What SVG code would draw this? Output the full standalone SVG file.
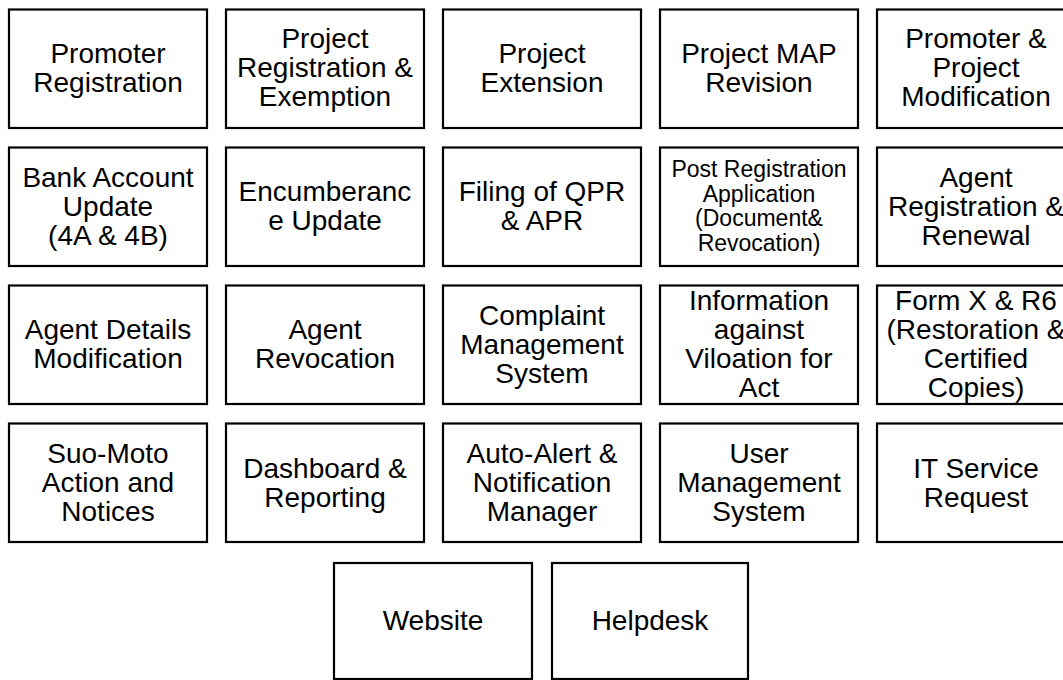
<svg xmlns="http://www.w3.org/2000/svg" width="1063" height="680" viewBox="0 0 1063 680">
  <style>
    .box { fill: #ffffff; stroke: #000000; stroke-width: 2.2; }
    .lbl { font-family: "Liberation Sans", Arial, sans-serif; font-size: 28px; fill: #000000; text-anchor: middle; }
    .sm { font-size: 23px; }
  </style>
  <rect x="0" y="0" width="1063" height="680" fill="#ffffff"/>

  <!-- Row 1 -->
  <g id="promoter-registration">
    <rect class="box" x="9" y="9.5" width="198" height="118.5"/>
    <text class="lbl" x="108"><tspan x="108" y="62.5">Promoter</tspan><tspan x="108" y="91.5">Registration</tspan></text>
  </g>
  <g id="project-registration">
    <rect class="box" x="226" y="9.5" width="198" height="118.5"/>
    <text class="lbl"><tspan x="325" y="48">Project</tspan><tspan x="325" y="77">Registration &amp;</tspan><tspan x="325" y="106">Exemption</tspan></text>
  </g>
  <g id="project-extension">
    <rect class="box" x="443" y="9.5" width="198" height="118.5"/>
    <text class="lbl"><tspan x="542" y="62.5">Project</tspan><tspan x="542" y="91.5">Extension</tspan></text>
  </g>
  <g id="project-map-revision">
    <rect class="box" x="660" y="9.5" width="198" height="118.5"/>
    <text class="lbl"><tspan x="759" y="62.5">Project MAP</tspan><tspan x="759" y="91.5">Revision</tspan></text>
  </g>
  <g id="promoter-project-modification">
    <rect class="box" x="877" y="9.5" width="198" height="118.5"/>
    <text class="lbl"><tspan x="976" y="48">Promoter &amp;</tspan><tspan x="976" y="77">Project</tspan><tspan x="976" y="106">Modification</tspan></text>
  </g>

  <!-- Row 2 -->
  <g id="bank-account-update">
    <rect class="box" x="9" y="147.5" width="198" height="118.5"/>
    <text class="lbl"><tspan x="108" y="186.5">Bank Account</tspan><tspan x="108" y="215.5">Update</tspan><tspan x="108" y="244.5">(4A &amp; 4B)</tspan></text>
  </g>
  <g id="encumberance-update">
    <rect class="box" x="226" y="147.5" width="198" height="118.5"/>
    <text class="lbl"><tspan x="325" y="201">Encumberanc</tspan><tspan x="325" y="230">e Update</tspan></text>
  </g>
  <g id="filing-qpr-apr">
    <rect class="box" x="443" y="147.5" width="198" height="118.5"/>
    <text class="lbl"><tspan x="542" y="201">Filing of QPR</tspan><tspan x="542" y="230">&amp; APR</tspan></text>
  </g>
  <g id="post-registration-application">
    <rect class="box" x="660" y="147.5" width="198" height="118.5"/>
    <text class="lbl sm"><tspan x="759" y="177">Post Registration</tspan><tspan x="759" y="201.5">Application</tspan><tspan x="759" y="226">(Document&amp;</tspan><tspan x="759" y="250.5">Revocation)</tspan></text>
  </g>
  <g id="agent-registration-renewal">
    <rect class="box" x="877" y="147.5" width="198" height="118.5"/>
    <text class="lbl"><tspan x="976" y="186.5">Agent</tspan><tspan x="976" y="215.5">Registration &amp;</tspan><tspan x="976" y="244.5">Renewal</tspan></text>
  </g>

  <!-- Row 3 -->
  <g id="agent-details-modification">
    <rect class="box" x="9" y="285.5" width="198" height="118.5"/>
    <text class="lbl"><tspan x="108" y="339">Agent Details</tspan><tspan x="108" y="368">Modification</tspan></text>
  </g>
  <g id="agent-revocation">
    <rect class="box" x="226" y="285.5" width="198" height="118.5"/>
    <text class="lbl"><tspan x="325" y="339">Agent</tspan><tspan x="325" y="368">Revocation</tspan></text>
  </g>
  <g id="complaint-management">
    <rect class="box" x="443" y="285.5" width="198" height="118.5"/>
    <text class="lbl"><tspan x="542" y="324.5">Complaint</tspan><tspan x="542" y="353.5">Management</tspan><tspan x="542" y="382.5">System</tspan></text>
  </g>
  <g id="information-violation">
    <rect class="box" x="660" y="285.5" width="198" height="118.5"/>
    <text class="lbl"><tspan x="759" y="310">Information</tspan><tspan x="759" y="339">against</tspan><tspan x="759" y="368">Viloation for</tspan><tspan x="759" y="397">Act</tspan></text>
  </g>
  <g id="form-x-r6">
    <rect class="box" x="877" y="285.5" width="198" height="118.5"/>
    <text class="lbl"><tspan x="976" y="310">Form X &amp; R6</tspan><tspan x="976" y="339">(Restoration &amp;</tspan><tspan x="976" y="368">Certified</tspan><tspan x="976" y="397">Copies)</tspan></text>
  </g>

  <!-- Row 4 -->
  <g id="suo-moto-action">
    <rect class="box" x="9" y="423.5" width="198" height="118.5"/>
    <text class="lbl"><tspan x="108" y="463">Suo-Moto</tspan><tspan x="108" y="492">Action and</tspan><tspan x="108" y="521">Notices</tspan></text>
  </g>
  <g id="dashboard-reporting">
    <rect class="box" x="226" y="423.5" width="198" height="118.5"/>
    <text class="lbl"><tspan x="325" y="477.5">Dashboard &amp;</tspan><tspan x="325" y="506.5">Reporting</tspan></text>
  </g>
  <g id="auto-alert-notification">
    <rect class="box" x="443" y="423.5" width="198" height="118.5"/>
    <text class="lbl"><tspan x="542" y="463">Auto-Alert &amp;</tspan><tspan x="542" y="492">Notification</tspan><tspan x="542" y="521">Manager</tspan></text>
  </g>
  <g id="user-management">
    <rect class="box" x="660" y="423.5" width="198" height="118.5"/>
    <text class="lbl"><tspan x="759" y="463">User</tspan><tspan x="759" y="492">Management</tspan><tspan x="759" y="521">System</tspan></text>
  </g>
  <g id="it-service-request">
    <rect class="box" x="877" y="423.5" width="198" height="118.5"/>
    <text class="lbl"><tspan x="976" y="477.5">IT Service</tspan><tspan x="976" y="506.5">Request</tspan></text>
  </g>

  <!-- Row 5 -->
  <g id="website">
    <rect class="box" x="334" y="563" width="198" height="116"/>
    <text class="lbl" x="433" y="630">Website</text>
  </g>
  <g id="helpdesk">
    <rect class="box" x="552" y="563" width="196" height="116"/>
    <text class="lbl" x="650" y="630">Helpdesk</text>
  </g>

  <g id="connectors"></g>
</svg>
